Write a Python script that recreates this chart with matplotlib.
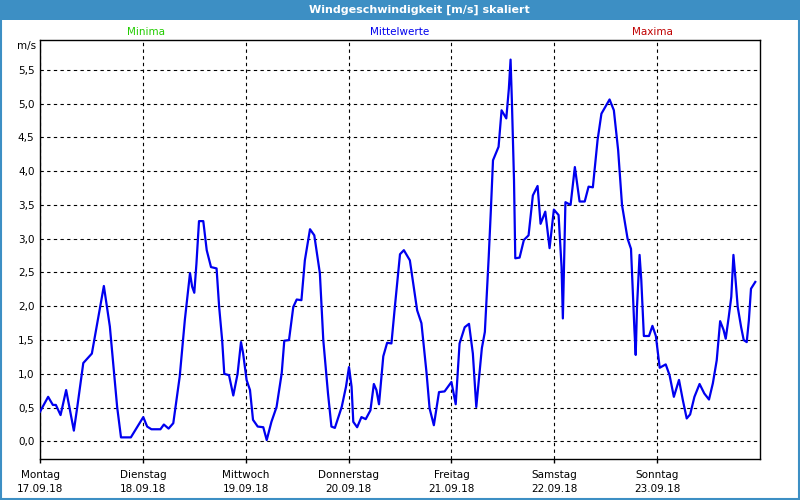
import matplotlib
matplotlib.use("Agg")
import matplotlib.pyplot as plt
from matplotlib.patches import Rectangle

# --- data (hours since Monday 17.09.18 00:00, wind speed m/s) ---------------
hours = [0.0, 1.9, 3.0, 3.7, 4.8, 6.1, 7.9, 8.7, 10.1, 12.1, 14.9, 16.3, 18.0,
         18.9, 21.2, 24.1, 25.0, 26.0, 28.1, 28.9, 30.0, 31.1, 32.6, 33.8,
         35.0, 35.5, 36.0, 36.5, 37.1, 38.1, 38.9, 39.9, 41.2, 41.8, 42.5,
         43.0, 44.1, 45.1, 46.1, 46.9, 47.4, 48.2, 49.0, 49.7, 50.8, 52.1,
         52.9, 54.0, 55.2, 56.4, 57.0, 58.1, 59.1, 59.9, 61.0, 61.8, 63.0,
         64.0, 65.3, 66.1, 67.2, 68.0, 68.8, 70.4, 71.4, 72.1, 72.7, 73.1,
         74.0, 75.0, 76.0, 77.1, 77.9, 78.5, 79.1, 80.1, 81.0, 82.0, 82.8,
         84.0, 84.9, 86.3, 88.0, 89.0, 90.2, 90.9, 91.9, 93.1, 94.4, 96.0,
         97.0, 97.9, 99.1, 100.1, 101.0, 101.8, 102.6, 103.1, 103.8, 104.7,
         105.2, 105.7, 107.0, 107.7, 108.8, 109.4, 109.8, 110.1, 110.6, 110.9,
         111.9, 112.9, 114.0, 115.0, 116.1, 116.8, 117.9, 118.9, 119.9, 121.0,
         121.7, 122.0, 122.6, 123.8, 124.8, 125.9, 127.1, 128.0, 129.0, 130.1,
         131.0, 132.9, 133.9, 134.9, 135.8, 137.1, 137.9, 138.3, 138.7, 139.0,
         139.3, 139.9, 140.3, 140.9, 142.1, 142.9, 143.7, 144.6, 146.0, 146.9,
         147.9, 149.1, 150.0, 150.9, 151.7, 152.7, 153.9, 155.0, 156.1, 157.0,
         157.9, 158.7, 159.5, 160.0, 160.7, 161.3, 161.8, 162.3, 162.8, 163.6,
         164.2, 164.9, 165.4, 165.9, 166.9]
speed = [0.44, 0.66, 0.54, 0.54, 0.39, 0.76, 0.16, 0.51, 1.16, 1.30, 2.30, 1.70,
         0.51, 0.06, 0.06, 0.36, 0.22, 0.18, 0.18, 0.25, 0.19, 0.27, 0.96, 1.80,
         2.49, 2.29, 2.20, 2.63, 3.26, 3.26, 2.83, 2.58, 2.56, 1.99, 1.50,
         1.00, 0.98, 0.68, 1.00, 1.47, 1.30, 0.91, 0.76, 0.32, 0.22, 0.21,
         0.02, 0.29, 0.51, 1.01, 1.49, 1.50, 1.99, 2.10, 2.09, 2.68, 3.14,
         3.05, 2.49, 1.50, 0.71, 0.22, 0.20, 0.51, 0.81, 1.10, 0.81, 0.29,
         0.21, 0.36, 0.33, 0.46, 0.85, 0.76, 0.55, 1.26, 1.46, 1.45, 1.99,
         2.77, 2.83, 2.68, 1.94, 1.75, 1.01, 0.49, 0.24, 0.73, 0.74, 0.88,
         0.55, 1.45, 1.69, 1.74, 1.30, 0.51, 1.05, 1.38, 1.62, 2.73,
         3.42, 4.16, 4.36, 4.90, 4.78, 5.22, 5.65, 5.05, 3.87, 2.71,
         2.72, 2.98, 3.05, 3.64, 3.78, 3.22, 3.40, 2.86, 3.43, 3.35,
         2.58, 1.82, 3.54, 3.50, 4.06, 3.55, 3.55, 3.77, 3.76, 4.46,
         4.85, 5.06, 4.90, 4.31, 3.50, 3.00, 2.85, 2.24, 1.65, 1.28,
         1.99, 2.76, 2.39, 1.56, 1.56, 1.71, 1.56, 1.09, 1.14, 0.98,
         0.66, 0.91, 0.61, 0.34, 0.40, 0.66, 0.85, 0.71, 0.62, 0.86,
         1.20, 1.78, 1.65, 1.52, 1.84, 2.14, 2.76, 2.39, 1.99, 1.69,
         1.50, 1.47, 1.79, 2.26, 2.36]

day_names = ["Montag", "Dienstag", "Mittwoch", "Donnerstag", "Freitag",
             "Samstag", "Sonntag"]
day_dates = ["17.09.18", "18.09.18", "19.09.18", "20.09.18", "21.09.18",
             "22.09.18", "23.09.18"]
y_ticks = [0.0, 0.5, 1.0, 1.5, 2.0, 2.5, 3.0, 3.5, 4.0, 4.5, 5.0, 5.5]

BAR = "#3d8fc4"
plt.rcParams.update({"font.family": "DejaVu Sans", "font.size": 7.5})

fig = plt.figure(figsize=(8, 5), dpi=100, facecolor="white")
ax = fig.add_axes([40 / 800, 41 / 500, 720 / 800, 419 / 500])

ax.plot(hours, speed, color="#0000f0", lw=1.6, zorder=3)

ax.set_xlim(0, 168)
ax.set_ylim(-0.26, 5.94)
ax.set_xticks([24 * i for i in range(7)])
ax.set_xticklabels([f"{n}\n{d}" for n, d in zip(day_names, day_dates)],
                   linespacing=1.45)
ax.set_yticks(y_ticks)
ax.set_yticklabels([f"{v:.1f}".replace(".", ",") for v in y_ticks])
ax.tick_params(axis="x", length=3, width=1, pad=5, direction="out")
ax.tick_params(axis="y", length=0, pad=4)
for s in ax.spines.values():
    s.set_color("black")
    s.set_linewidth(1)

ax.grid(True, color="black", lw=0.8, ls=(0, (3, 3)))
ax.set_axisbelow(True)

# header strip + frame
fig.patches.append(Rectangle((0, 480 / 500), 1, 20 / 500, transform=fig.transFigure,
                             facecolor=BAR, edgecolor="none", zorder=0))
fig.patches.append(Rectangle((0.001, 0.002), 0.998, 0.99, transform=fig.transFigure,
                             facecolor="none", edgecolor=BAR, lw=1.5, zorder=0))
fig.text(419 / 800, 1 - 10 / 500, "Windgeschwindigkeit [m/s] skaliert",
         color="white", fontweight="bold", ha="center", va="center", fontsize=8)

fig.text(146 / 800, 1 - 32 / 500, "Minima", color="#22cc00", ha="center", va="center")
fig.text(400 / 800, 1 - 32 / 500, "Mittelwerte", color="#0000ee", ha="center", va="center")
fig.text(652 / 800, 1 - 32 / 500, "Maxima", color="#c00000", ha="center", va="center")
fig.text(36 / 800, 1 - 46 / 500, "m/s", ha="right", va="center")

fig.savefig("out.png", dpi=100, facecolor="white")
